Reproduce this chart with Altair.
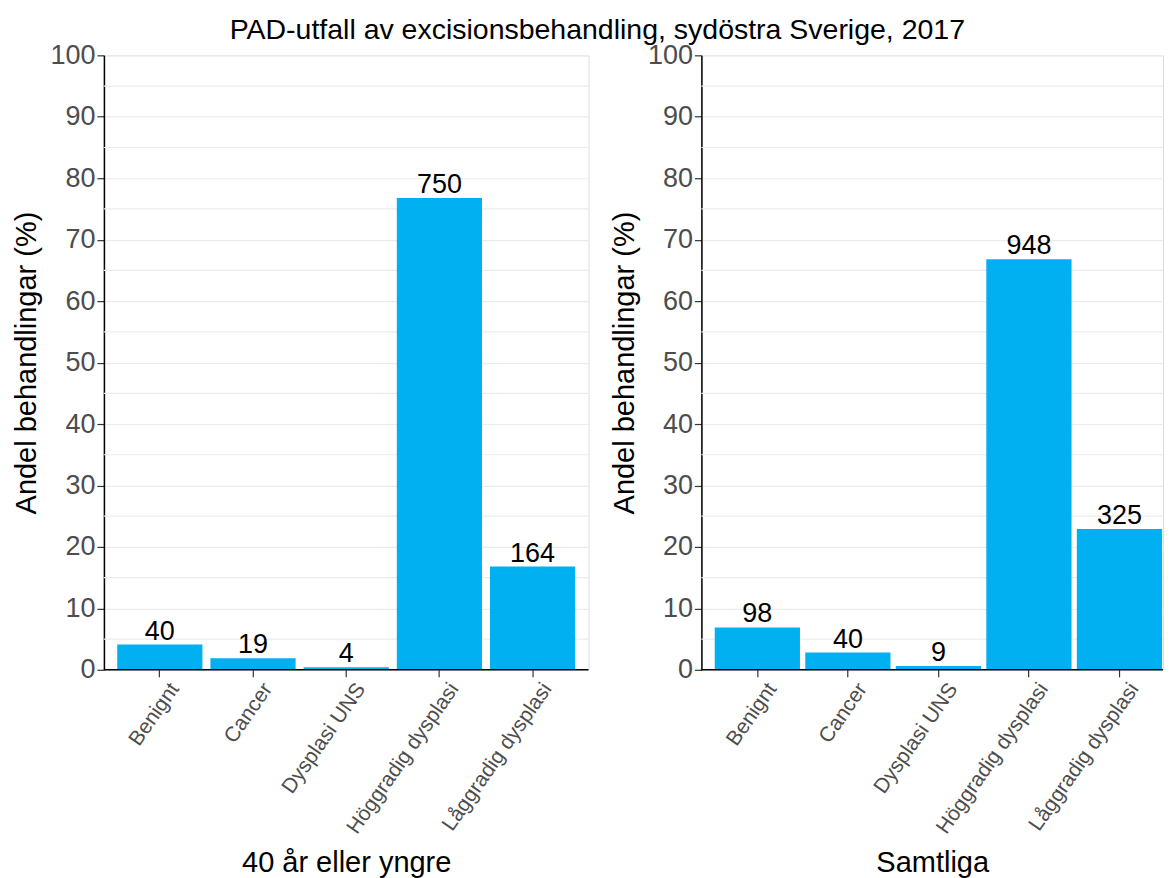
import altair as alt
import pandas as pd

categories = ["Benignt", "Cancer", "Dysplasi UNS", "Höggradig dysplasi", "Låggradig dysplasi"]
young_pct = [4.1, 1.9, 0.4, 76.8, 16.8]
young_n = [40, 19, 4, 750, 164]
all_pct = [6.9, 2.8, 0.6, 66.8, 22.9]
all_n = [98, 40, 9, 948, 325]
minor_grid = [5, 15, 25, 35, 45, 55, 65, 75, 85, 95]
major_ticks = [0, 10, 20, 30, 40, 50, 60, 70, 80, 90, 100]

FONT = "Liberation Sans"
BAR = "#00B0F0"
GRID = "#EBEBEB"

H = 615


def yaxis():
    return alt.Axis(
        values=major_ticks,
        grid=True,
        gridColor=GRID,
        gridWidth=1.2,
        labelFontSize=27,
        labelFont=FONT,
        labelColor="#4D4D4D",
        labelPadding=2,
        tickSize=7,
        tickColor="#333333",
        tickWidth=1.2,
        domainColor="#000000",
        domainWidth=1.5,
        titleFont=FONT,
        titleFontSize=29,
        titleFontWeight="normal",
        titleColor="#000000",
        titlePadding=8,
    )


def panel(pcts, counts, xtitle, view_w, xscale):
    df = pd.DataFrame({"kat": categories, "pct": pcts, "n": counts})
    yscale = alt.Scale(domain=[0, 100], nice=False, zero=True)
    ytitle = "Andel behandlingar (%)"
    xenc = alt.X(
        "kat:N",
        sort=categories,
        scale=xscale,
        title=xtitle,
        axis=alt.Axis(
            labelAngle=305,
            labelAlign="right",
            labelBaseline="top",
            labelFontSize=21,
            labelFont=FONT,
            labelColor="#4D4D4D",
            labelPadding=2,
            labelOffset=6,
            tickSize=7,
            tickColor="#333333",
            tickWidth=1.2,
            domain=False,
            titleFont=FONT,
            titleFontSize=29,
            titleFontWeight="normal",
            titleColor="#000000",
            titlePadding=12,
            grid=False,
        ),
    )
    grid = (
        alt.Chart(pd.DataFrame({"v": minor_grid}))
        .mark_rule(color=GRID, strokeWidth=1.2)
        .encode(y=alt.Y("v:Q", scale=yscale, title=ytitle, axis=yaxis()))
    )
    bars = (
        alt.Chart(df)
        .mark_bar(color=BAR)
        .encode(
            x=xenc,
            y=alt.Y("pct:Q", scale=yscale, title=ytitle, axis=yaxis()),
        )
    )
    labels = (
        alt.Chart(df)
        .mark_text(font=FONT, fontSize=27, color="#000000", baseline="alphabetic", dy=-5)
        .encode(x=alt.X("kat:N", sort=categories), y=alt.Y("pct:Q"), text="n:Q")
    )
    baseline = (
        alt.Chart(pd.DataFrame({"v": [0]}))
        .mark_rule(color="#000000", strokeWidth=1.5)
        .encode(y=alt.Y("v:Q"))
    )
    return alt.layer(grid, bars, labels, baseline).properties(width=view_w, height=H)


left = panel(
    young_pct, young_n, "40 år eller yngre", 485,
    alt.Scale(paddingInner=0.086, paddingOuter=0.143),
)
right = panel(
    all_pct, all_n, "Samtliga", 462,
    alt.Scale(paddingInner=0.0585, paddingOuter=0.0789, align=0.934),
)

chart = (
    alt.hconcat(left, right, spacing=19)
    .properties(
        title=alt.TitleParams(
            "PAD-utfall av excisionsbehandling, sydöstra Sverige, 2017",
            font=FONT,
            fontSize=28.5,
            fontWeight="normal",
            color="#000000",
            anchor="middle",
            offset=-7,
            dx=9,
            dy=-3,
        ),
        padding={"left": 4, "top": 8, "right": 0, "bottom": 0},
    )
    .configure_view(stroke="transparent", strokeWidth=0)
    .configure(background="white")
)

chart.save("out.html", embed_options={"renderer": "svg", "actions": False})
